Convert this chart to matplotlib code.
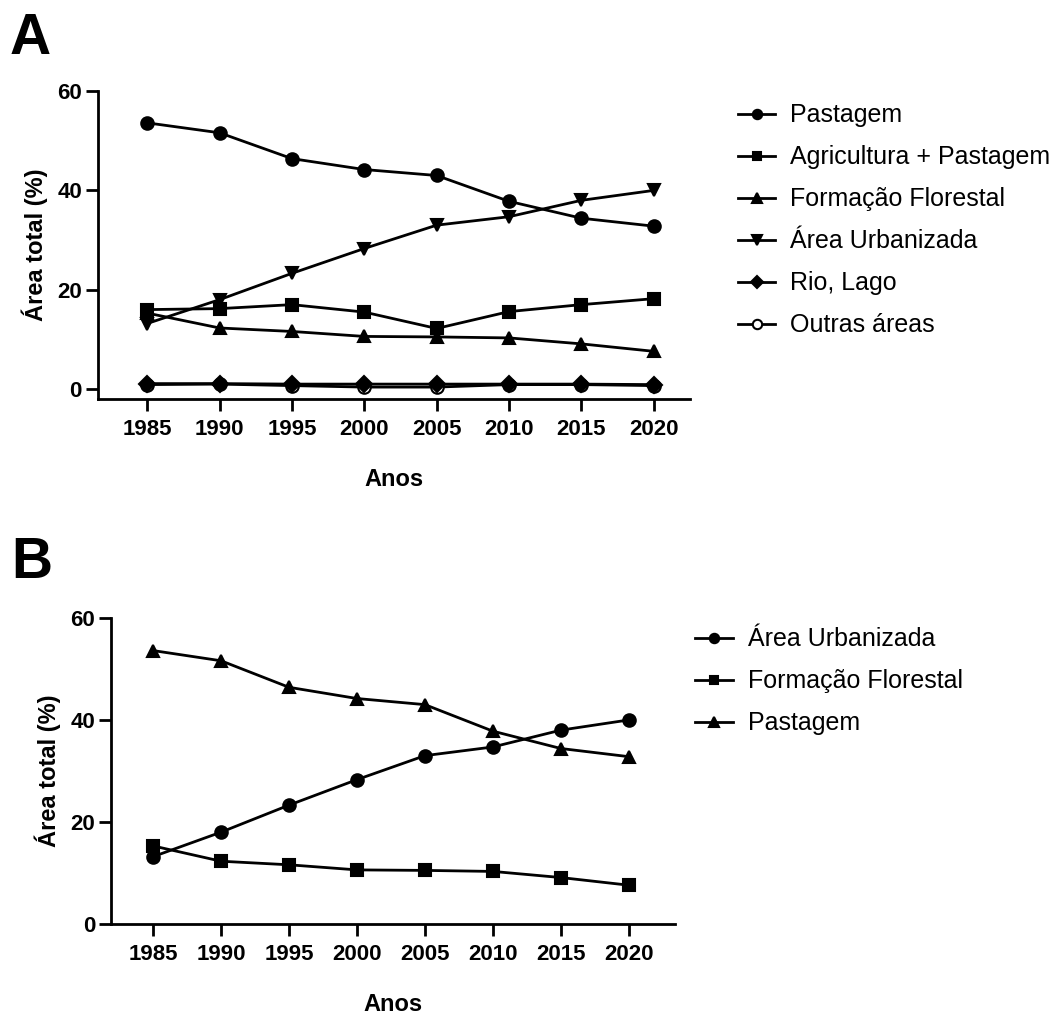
import matplotlib.pyplot as plt

plt.rcParams["font.family"] = ["Liberation Sans", "DejaVu Sans"]

anos = [1985, 1990, 1995, 2000, 2005, 2010, 2015, 2020]

pastagem = [53.6, 51.6, 46.4, 44.2, 43.0, 37.8, 34.4, 32.8]
agricultura_pastagem = [16.0, 16.2, 17.0, 15.5, 12.2, 15.6, 17.0, 18.2]
formacao_florestal = [15.3, 12.3, 11.6, 10.6, 10.5, 10.3, 9.1, 7.6]
area_urbanizada = [13.2, 18.0, 23.3, 28.3, 33.0, 34.7, 38.0, 40.0]
rio_lago = [1.1, 1.1, 1.0, 1.0, 1.0, 1.0, 1.0, 0.9]
outras_areas = [0.9, 1.0, 0.7, 0.4, 0.4, 0.9, 0.9, 0.7]

yticks = [0, 20, 40, 60]

LW = 2.0


def _style_axes(ax, xlim, ylim):
    ax.set_xlim(*xlim)
    ax.set_ylim(*ylim)
    ax.set_xticks(anos)
    ax.set_yticks(yticks)
    for side in ("top", "right"):
        ax.spines[side].set_visible(False)
    for side in ("left", "bottom"):
        ax.spines[side].set_linewidth(LW)
    ax.tick_params(direction="out", length=8.5, width=LW, labelsize=16)
    ax.tick_params(axis="x", pad=6)
    ax.tick_params(axis="y", pad=3)
    for lab in ax.get_xticklabels() + ax.get_yticklabels():
        lab.set_fontweight("bold")
    ax.set_xlabel("Anos", fontsize=17, fontweight="bold", labelpad=20)
    ax.set_ylabel("Área total (%)", fontsize=17, fontweight="bold", labelpad=7)


def _line(ax, y, marker, label, ms=9, face="black", z=2):
    ax.plot(
        anos, y, color="black", linewidth=LW, marker=marker, markersize=ms,
        markerfacecolor=face, markeredgecolor="black", markeredgewidth=1.5,
        label=label, clip_on=False, zorder=z,
    )


def _legend(ax, anchor):
    ax.legend(
        loc="upper left", bbox_to_anchor=anchor, frameon=False,
        fontsize=18, handlelength=1.5, handletextpad=0.6, labelspacing=0.72,
        markerscale=0.75,
    )


fig = plt.figure(figsize=(10.59, 10.14), dpi=100)

# Panel A
ax_a = fig.add_axes([0.0925, 0.6065, 0.559, 0.3037])
_line(ax_a, pastagem, "o", "Pastagem")
_line(ax_a, agricultura_pastagem, "s", "Agricultura + Pastagem", ms=8.5)
_line(ax_a, formacao_florestal, "^", "Formação Florestal")
_line(ax_a, area_urbanizada, "v", "Área Urbanizada")
_line(ax_a, rio_lago, "D", "Rio, Lago", ms=8, z=3)
_line(ax_a, outras_areas, "o", "Outras áreas", face="white")
_style_axes(ax_a, (1981.6, 2022.5), (-2.0, 60))
_legend(ax_a, (1.043, 1.033))

# Panel B
ax_b = fig.add_axes([0.1048, 0.0888, 0.5326, 0.3018])
_line(ax_b, area_urbanizada, "o", "Área Urbanizada")
_line(ax_b, formacao_florestal, "s", "Formação Florestal", ms=8.5)
_line(ax_b, pastagem, "^", "Pastagem")
_style_axes(ax_b, (1981.9, 2023.4), (0, 60))
_legend(ax_b, (0.996, 1.043))

fig.text(0.009, 0.988, "A", fontsize=41, fontweight="bold", va="top")
fig.text(0.011, 0.471, "B", fontsize=41, fontweight="bold", va="top")

fig.savefig("out.png", dpi=100)
